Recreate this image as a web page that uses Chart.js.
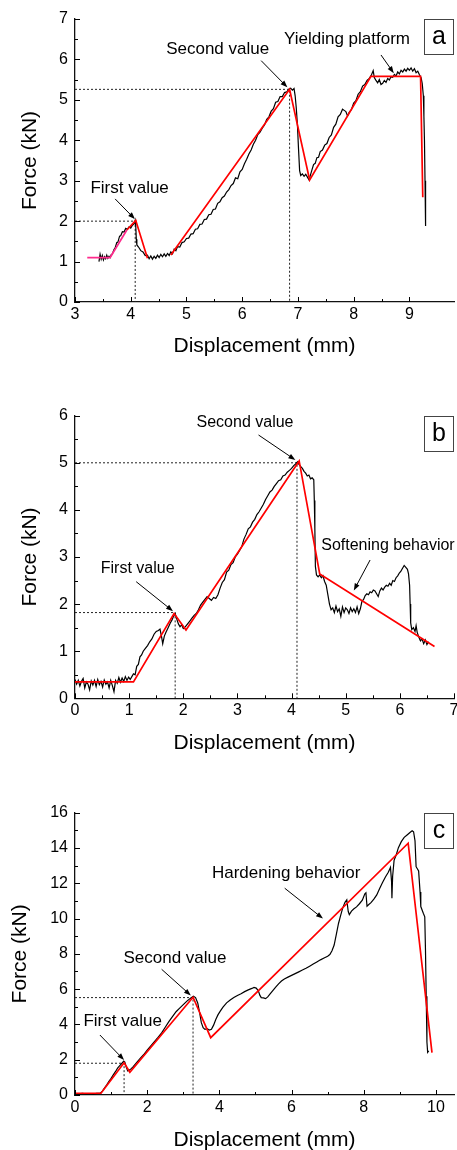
<!DOCTYPE html>
<html>
<head>
<meta charset="utf-8">
<script src="https://cdn.jsdelivr.net/npm/chart.js@4"></script>
<style>
  html, body { margin: 0; padding: 0; background: #fff; overflow: hidden; }
  canvas { position: absolute; left: 0; }
</style>
</head>
<body>
<canvas id="chart-a" width="457" height="380" style="top:0px"></canvas>
<canvas id="chart-b" width="457" height="380" style="top:380px"></canvas>
<canvas id="chart-c" width="457" height="390" style="top:765px"></canvas>
<script>
// Force-displacement curves, three specimens (a, b, c).
// Black = measured curve, red = piecewise fit, dotted = first/second value guides.

// ---- panel a ----
const aXTicks = [3, 4, 5, 6, 7, 8, 9];
const aYTicks = [0, 1, 2, 3, 4, 5, 6, 7];
const aMeasured = [
  [3.43,1.00],[3.45,1.18],[3.47,1.06],[3.49,1.15],[3.51,1.04],[3.53,1.12],[3.55,1.07],[3.57,1.16],
  [3.59,1.08],[3.61,1.13],[3.63,1.10],[3.65,1.17],[3.67,1.19],[3.70,1.30],[3.72,1.34],[3.75,1.47],
  [3.77,1.48],[3.80,1.63],[3.82,1.64],[3.85,1.74],[3.88,1.73],[3.91,1.82],[3.94,1.80],[3.97,1.86],
  [4.00,1.83],[4.03,1.90],[4.06,1.93],[4.08,2.02],[4.09,1.88],[4.10,1.55],[4.11,1.41],[4.14,1.36],
  [4.18,1.27],[4.22,1.24],[4.26,1.15],[4.30,1.16],[4.33,1.07],[4.36,1.14],[4.39,1.06],[4.42,1.13],
  [4.45,1.08],[4.48,1.16],[4.51,1.10],[4.54,1.18],[4.57,1.12],[4.60,1.19],[4.63,1.13],[4.66,1.20],
  [4.69,1.15],[4.72,1.24],[4.75,1.19],[4.78,1.31],[4.81,1.27],[4.84,1.37],[4.88,1.36],[4.92,1.47],
  [4.96,1.49],[5.00,1.57],[5.04,1.58],[5.08,1.68],[5.12,1.69],[5.16,1.80],[5.20,1.81],[5.24,1.92],
  [5.28,1.93],[5.32,2.04],[5.36,2.05],[5.40,2.16],[5.44,2.17],[5.48,2.29],[5.52,2.30],[5.56,2.44],
  [5.60,2.48],[5.64,2.58],[5.68,2.62],[5.72,2.72],[5.76,2.78],[5.80,2.88],[5.84,2.93],[5.88,3.07],
  [5.92,3.05],[5.96,3.22],[6.00,3.28],[6.04,3.42],[6.08,3.53],[6.12,3.66],[6.16,3.76],[6.20,3.90],
  [6.24,4.00],[6.28,4.14],[6.32,4.20],[6.36,4.30],[6.40,4.38],[6.44,4.52],[6.48,4.58],[6.52,4.72],
  [6.56,4.78],[6.60,4.94],[6.64,4.96],[6.68,5.08],[6.72,5.08],[6.76,5.18],[6.80,5.20],[6.84,5.27],
  [6.87,5.29],[6.90,5.24],[6.93,5.28],[6.95,5.10],[6.97,4.80],[6.99,4.40],[7.01,3.80],[7.03,3.25],
  [7.05,3.13],[7.08,3.17],[7.11,3.11],[7.14,3.16],[7.17,3.09],[7.20,3.02],[7.22,3.12],[7.25,3.26],
  [7.28,3.40],[7.31,3.43],[7.34,3.57],[7.37,3.58],[7.40,3.72],[7.44,3.76],[7.48,3.88],[7.52,3.92],
  [7.56,4.07],[7.60,4.13],[7.64,4.32],[7.68,4.40],[7.72,4.58],[7.76,4.64],[7.80,4.77],[7.83,4.74],
  [7.86,4.71],[7.89,4.60],[7.92,4.69],[7.96,4.76],[8.00,4.92],[8.04,4.98],[8.08,5.14],[8.12,5.20],
  [8.16,5.34],[8.20,5.38],[8.24,5.48],[8.28,5.53],[8.32,5.62],[8.35,5.72],[8.37,5.55],[8.40,5.48],
  [8.43,5.42],[8.46,5.50],[8.49,5.38],[8.52,5.41],[8.55,5.48],[8.58,5.43],[8.61,5.53],[8.64,5.49],
  [8.67,5.57],[8.70,5.56],[8.73,5.63],[8.76,5.59],[8.79,5.69],[8.82,5.64],[8.85,5.73],[8.88,5.69],
  [8.91,5.76],[8.94,5.71],[8.97,5.78],[9.00,5.73],[9.03,5.79],[9.06,5.71],[9.09,5.77],[9.12,5.67],
  [9.15,5.71],[9.18,5.62],[9.21,5.55],[9.23,5.40],[9.25,5.10],[9.26,4.60],[9.27,4.00],[9.28,3.00],
  [9.29,1.88]
];
const aFit = [[3.93,1.78],[4.09,2.02],[4.30,1.08],[4.50,null],[4.72,1.16],[6.85,5.26],[7.21,3.02],[8.31,5.58],[9.20,5.58],[9.24,2.59]];
const aPreload = [[3.22,1.10],[3.63,1.10],[3.93,1.78]];
const aGuideFirst = [[3,2.00],[4.08,2.00],[4.08,0]];
const aGuideSecond = [[3,5.26],[6.85,5.26],[6.85,0]];

// ---- panel b ----
const bXTicks = [0, 1, 2, 3, 4, 5, 6, 7];
const bYTicks = [0, 1, 2, 3, 4, 5, 6];
const bMeasured = [
  [0,0.40],[0.03,0.30],[0.06,0.38],[0.09,0.26],[0.12,0.36],[0.15,0.42],[0.18,0.22],[0.21,0.35],
  [0.24,0.30],[0.27,0.18],[0.30,0.37],[0.33,0.28],[0.36,0.38],[0.39,0.25],[0.42,0.40],[0.45,0.29],
  [0.48,0.36],[0.51,0.24],[0.54,0.39],[0.57,0.30],[0.60,0.35],[0.63,0.22],[0.66,0.38],[0.69,0.27],
  [0.72,0.14],[0.75,0.38],[0.78,0.32],[0.81,0.44],[0.84,0.34],[0.87,0.43],[0.90,0.36],[0.93,0.46],
  [0.96,0.38],[0.99,0.45],[1.02,0.40],[1.05,0.46],[1.08,0.52],[1.11,0.50],[1.14,0.68],[1.17,0.72],
  [1.20,0.88],[1.23,0.92],[1.26,1.00],[1.30,1.06],[1.34,1.12],[1.38,1.20],[1.42,1.26],[1.46,1.36],
  [1.50,1.42],[1.54,1.44],[1.57,1.47],[1.60,1.30],[1.62,1.16],[1.65,1.32],[1.68,1.40],[1.72,1.50],
  [1.76,1.60],[1.79,1.66],[1.82,1.74],[1.85,1.80],[1.88,1.68],[1.91,1.58],[1.94,1.52],[1.97,1.56],
  [2.00,1.48],[2.04,1.52],[2.08,1.58],[2.12,1.64],[2.16,1.70],[2.20,1.76],[2.24,1.80],[2.28,1.88],
  [2.32,1.98],[2.36,2.04],[2.40,2.10],[2.44,2.16],[2.48,2.12],[2.52,2.08],[2.56,2.14],[2.60,2.12],
  [2.64,2.20],[2.68,2.34],[2.72,2.46],[2.76,2.52],[2.80,2.68],[2.84,2.72],[2.88,2.84],[2.92,2.88],
  [2.96,3.00],[3.00,3.06],[3.04,3.14],[3.08,3.22],[3.12,3.38],[3.16,3.48],[3.20,3.60],[3.24,3.64],
  [3.28,3.74],[3.32,3.80],[3.36,3.90],[3.40,3.96],[3.44,4.04],[3.48,4.12],[3.52,4.22],[3.56,4.30],
  [3.60,4.38],[3.64,4.42],[3.68,4.50],[3.72,4.56],[3.76,4.62],[3.80,4.64],[3.84,4.72],[3.88,4.74],
  [3.92,4.80],[3.96,4.84],[4.00,4.88],[4.04,4.94],[4.08,4.98],[4.11,5.02],[4.14,4.96],[4.17,4.92],
  [4.20,4.88],[4.23,4.82],[4.26,4.78],[4.29,4.72],[4.32,4.74],[4.35,4.66],[4.38,4.68],[4.41,4.64],
  [4.42,4.20],[4.43,3.60],[4.44,2.80],[4.46,2.62],[4.49,2.58],[4.52,2.62],[4.55,2.56],[4.58,2.60],
  [4.61,2.48],[4.64,2.40],[4.67,2.20],[4.70,2.00],[4.73,1.88],[4.76,1.92],[4.79,1.82],[4.82,1.96],
  [4.85,1.84],[4.88,1.90],[4.91,1.74],[4.94,1.94],[4.97,1.82],[5.00,1.92],[5.03,1.88],[5.06,1.80],
  [5.09,1.92],[5.12,1.84],[5.15,1.90],[5.18,1.82],[5.21,1.94],[5.24,1.80],[5.27,1.90],[5.30,2.06],
  [5.33,2.10],[5.36,2.18],[5.39,2.22],[5.42,2.20],[5.45,2.26],[5.48,2.24],[5.51,2.30],[5.54,2.28],
  [5.57,2.22],[5.60,2.16],[5.63,2.28],[5.66,2.34],[5.69,2.30],[5.72,2.36],[5.75,2.40],[5.78,2.38],
  [5.81,2.44],[5.84,2.40],[5.87,2.50],[5.90,2.48],[5.93,2.56],[5.96,2.60],[5.99,2.66],[6.02,2.70],
  [6.05,2.76],[6.08,2.82],[6.11,2.78],[6.14,2.74],[6.16,2.64],[6.18,2.40],[6.19,2.00],[6.20,1.60],
  [6.22,1.46],[6.25,1.50],[6.28,1.42],[6.30,1.54],[6.32,1.40],[6.35,1.30],[6.38,1.22],[6.41,1.26],
  [6.44,1.16],[6.47,1.24],[6.50,1.14],[6.53,1.20]
];
const bFit = [[0,0.35],[1.08,0.35],[1.83,1.80],[2.05,1.45],[4.14,5.04],[4.52,2.64],[6.64,1.10]];
const bGuideFirst = [[0,1.82],[1.85,1.82],[1.85,0]];
const bGuideSecond = [[0,5.00],[4.10,5.00],[4.10,0]];

// ---- panel c ----
const cXTicks = [0, 2, 4, 6, 8, 10];
const cYTicks = [0, 2, 4, 6, 8, 10, 12, 14, 16];
const cMeasured = [
  [0,0.08],[0.1,0.05],[0.2,0.09],[0.3,0.06],[0.4,0.08],[0.5,0.05],[0.6,0.09],[0.7,0.10],
  [0.76,0.22],[0.82,0.40],[0.88,0.58],[0.94,0.78],[1.00,0.94],[1.06,1.14],[1.12,1.32],[1.18,1.52],
  [1.24,1.66],[1.30,1.80],[1.35,1.92],[1.38,1.86],[1.42,1.58],[1.46,1.36],[1.50,1.40],[1.55,1.48],
  [1.60,1.58],[1.70,1.82],[1.80,2.06],[1.90,2.28],[2.00,2.54],[2.10,2.78],[2.20,3.02],[2.30,3.26],
  [2.40,3.52],[2.50,3.84],[2.60,4.16],[2.70,4.44],[2.80,4.72],[2.90,4.92],[3.00,5.12],[3.10,5.32],
  [3.20,5.48],[3.28,5.60],[3.34,5.52],[3.40,5.22],[3.45,4.70],[3.50,4.10],[3.55,3.82],[3.60,3.72],
  [3.66,3.76],[3.72,3.68],[3.78,3.72],[3.84,3.96],[3.90,4.28],[3.96,4.54],[4.02,4.74],[4.10,4.98],
  [4.20,5.22],[4.30,5.38],[4.40,5.52],[4.50,5.64],[4.60,5.74],[4.70,5.86],[4.80,5.96],[4.90,6.04],
  [4.96,6.10],[5.02,6.06],[5.08,5.90],[5.12,5.66],[5.16,5.52],[5.22,5.50],[5.28,5.46],[5.34,5.56],
  [5.40,5.72],[5.48,5.92],[5.56,6.12],[5.64,6.30],[5.72,6.46],[5.80,6.58],[5.90,6.68],[6.00,6.78],
  [6.10,6.88],[6.20,6.98],[6.30,7.08],[6.40,7.18],[6.50,7.30],[6.60,7.42],[6.70,7.54],[6.80,7.66],
  [6.90,7.76],[7.00,7.86],[7.06,7.96],[7.12,8.18],[7.18,8.50],[7.24,9.10],[7.30,9.72],[7.36,10.18],
  [7.42,10.62],[7.48,10.92],[7.53,11.06],[7.57,10.40],[7.60,10.22],[7.66,10.42],[7.72,10.54],[7.80,10.66],
  [7.88,10.84],[7.96,11.04],[8.03,11.40],[8.06,11.46],[8.09,10.70],[8.14,10.80],[8.20,10.90],[8.28,11.10],
  [8.36,11.34],[8.44,11.70],[8.52,12.04],[8.60,12.36],[8.68,12.62],[8.74,12.90],[8.77,12.10],[8.78,11.15],
  [8.80,12.40],[8.84,13.30],[8.90,13.62],[8.96,14.02],[9.04,14.36],[9.12,14.60],[9.20,14.74],[9.28,14.88],
  [9.34,14.98],[9.38,14.92],[9.42,14.40],[9.45,12.94],[9.52,12.70],[9.56,11.50],[9.58,10.68],[9.65,10.30],
  [9.69,10.10],[9.71,8.20],[9.73,5.60],[9.75,3.00],[9.77,2.42],[9.80,2.50]
];
const cFit = [[0,0.10],[0.72,0.10],[1.36,1.83],[1.52,1.29],[3.27,5.54],[3.76,3.25],[9.23,14.27],[9.89,2.40]];
const cGuideFirst = [[0,1.80],[1.36,1.80],[1.36,0]];
const cGuideSecond = [[0,5.52],[3.27,5.52],[3.27,0]];

const FONT = '"Liberation Sans", Arial, sans-serif';

const toPoints = arr => arr.map(([x, y]) => ({ x, y }));

// midpoints between major ticks, used for the small inward ticks
const minorsOf = ticks => ticks.slice(1).map((v, i) => (v + ticks[i]) / 2);

// inward ticks, annotation texts with arrows and the panel letter box
const decorations = {
  id: 'decorations',
  afterDatasetsDraw(chart, args, opts) {
    const { ctx, chartArea: area, scales: { x, y } } = chart;
    ctx.save();
    ctx.strokeStyle = '#000';
    ctx.fillStyle = '#000';
    ctx.lineWidth = 1;
    const seg = (x1, y1, x2, y2) => {
      ctx.beginPath(); ctx.moveTo(x1, y1); ctx.lineTo(x2, y2); ctx.stroke();
    };
    opts.xMajor.forEach(v => { const p = Math.round(x.getPixelForValue(v)) + 0.5; seg(p, area.bottom, p, area.bottom - 5); });
    minorsOf(opts.xMajor).forEach(v => { const p = Math.round(x.getPixelForValue(v)) + 0.5; seg(p, area.bottom, p, area.bottom - 3); });
    opts.yMajor.forEach(v => { const p = Math.round(y.getPixelForValue(v)) + 0.5; seg(area.left, p, area.left + 5, p); });
    minorsOf(opts.yMajor).forEach(v => { const p = Math.round(y.getPixelForValue(v)) + 0.5; seg(area.left, p, area.left + 3, p); });

    // annotations
    ctx.font = opts.noteSize + 'px ' + FONT;
    ctx.textAlign = 'center';
    ctx.textBaseline = 'middle';
    opts.notes.forEach(n => {
      ctx.fillText(n.text, x.getPixelForValue(n.at[0]), y.getPixelForValue(n.at[1]));
      const x1 = x.getPixelForValue(n.from[0]), y1 = y.getPixelForValue(n.from[1]);
      const x2 = x.getPixelForValue(n.to[0]), y2 = y.getPixelForValue(n.to[1]);
      const ang = Math.atan2(y2 - y1, x2 - x1);
      seg(x1, y1, x2 - 5 * Math.cos(ang), y2 - 5 * Math.sin(ang));
      ctx.beginPath();
      ctx.moveTo(x2, y2);
      ctx.lineTo(x2 - 7 * Math.cos(ang) + 2.6 * Math.sin(ang), y2 - 7 * Math.sin(ang) - 2.6 * Math.cos(ang));
      ctx.lineTo(x2 - 7 * Math.cos(ang) - 2.6 * Math.sin(ang), y2 - 7 * Math.sin(ang) + 2.6 * Math.cos(ang));
      ctx.closePath();
      ctx.fill();
    });

    // letter box in the top right corner
    const bx = Math.round(area.right) - 29.5, by = Math.round(area.top) + 0.5;
    ctx.strokeStyle = '#444';
    ctx.strokeRect(bx, by, 29, 35);
    ctx.font = '25px ' + FONT;
    ctx.fillText(opts.letter, bx + 14.5, by + 18);
    ctx.restore();
  }
};

function makePanel(id, p) {
  const ctx = document.getElementById(id).getContext('2d');
  const datasets = [
    { data: toPoints(p.fit), borderColor: '#ff0000', borderWidth: 1.7, spanGaps: false },
    { data: toPoints(p.measured), borderColor: '#000', borderWidth: 1.2 },
    { data: toPoints(p.guideFirst), borderColor: '#222', borderWidth: 1, borderDash: [2, 2] },
    { data: toPoints(p.guideSecond), borderColor: '#222', borderWidth: 1, borderDash: [2, 2] }
  ];
  if (p.preload) {
    datasets.unshift({ data: toPoints(p.preload), borderColor: '#ff2a8c', borderWidth: 1.7 });
  }
  datasets.forEach(d => { d.showLine = true; d.pointRadius = 0; d.fill = false; d.tension = 0; });

  return new Chart(ctx, {
    type: 'scatter',
    data: { datasets },
    options: {
      responsive: false,
      animation: false,
      events: [],
      layout: { padding: { top: p.areaTop, right: 3, bottom: 0, left: 0 } },
      plugins: {
        legend: { display: false },
        tooltip: { enabled: false },
        decorations: {
          xMajor: p.xTicks, yMajor: p.yTicks, notes: p.notes,
          noteSize: p.noteSize, letter: p.letter
        }
      },
      scales: {
        x: {
          type: 'linear',
          min: p.xMin, max: p.xMax,
          afterBuildTicks: s => { s.ticks = p.xTicks.map(v => ({ value: v })); },
          afterFit: s => { s.height = p.xAxisH; s.paddingLeft = 0; s.paddingRight = 0; },
          ticks: { font: { family: FONT, size: 16 }, color: '#000', padding: 3, maxRotation: 0, autoSkip: false },
          grid: { drawOnChartArea: false, drawTicks: false },
          border: { color: '#111', width: 1.3 },
          title: {
            display: true, text: 'Displacement (mm)', color: '#000',
            font: { family: FONT, size: 21 }, padding: { top: 0, bottom: p.xTitlePad }
          }
        },
        y: {
          type: 'linear',
          min: p.yMin, max: p.yMax,
          afterBuildTicks: s => { s.ticks = p.yTicks.map(v => ({ value: v })); },
          afterFit: s => { s.width = 75; s.paddingTop = 0; s.paddingBottom = 0; },
          ticks: { font: { family: FONT, size: 16 }, color: '#000', padding: 7, autoSkip: false },
          grid: { drawOnChartArea: false, drawTicks: false },
          border: { color: '#111', width: 1.3 },
          title: {
            display: true, text: 'Force (kN)', color: '#000',
            font: { family: FONT, size: 21 }, padding: { top: p.yTitlePad, bottom: 0 }
          }
        }
      }
    },
    plugins: [decorations]
  });
}

makePanel('chart-a', {
  measured: aMeasured, fit: aFit, preload: aPreload,
  guideFirst: aGuideFirst, guideSecond: aGuideSecond,
  xTicks: aXTicks, yTicks: aYTicks, xMin: 3, xMax: 9.8, yMin: 0, yMax: 7,
  areaTop: 19, xAxisH: 78, xTitlePad: 20.7, yTitlePad: 17.4,
  noteSize: 17, letter: 'a',
  notes: [
    { text: 'First value', at: [3.98, 2.81], from: [3.72, 2.55], to: [4.075, 2.05] },
    { text: 'Second value', at: [5.56, 6.26], from: [6.34, 5.97], to: [6.81, 5.31] },
    { text: 'Yielding platform', at: [7.88, 6.505], from: [8.49, 6.11], to: [8.72, 5.66] }
  ]
});

makePanel('chart-b', {
  measured: bMeasured, fit: bFit,
  guideFirst: bGuideFirst, guideSecond: bGuideSecond,
  xTicks: bXTicks, yTicks: bYTicks, xMin: 0, xMax: 7, yMin: 0, yMax: 6,
  areaTop: 35.7, xAxisH: 61.7, xTitlePad: 4.4, yTitlePad: 17.4,
  noteSize: 16, letter: 'b',
  notes: [
    { text: 'First value', at: [1.157, 2.745], from: [1.13, 2.476], to: [1.81, 1.85] },
    { text: 'Second value', at: [3.14, 5.86], from: [3.39, 5.59], to: [4.07, 5.06] },
    { text: 'Softening behavior', at: [5.78, 3.24], from: [5.45, 2.936], to: [5.15, 2.29] }
  ]
});

makePanel('chart-c', {
  measured: cMeasured, fit: cFit,
  guideFirst: cGuideFirst, guideSecond: cGuideSecond,
  xTicks: cXTicks, yTicks: cYTicks, xMin: 0, xMax: 10.5, yMin: 0, yMax: 16,
  areaTop: 47.7, xAxisH: 60, xTitlePad: 2.4, yTitlePad: 8.1,
  noteSize: 17, letter: 'c',
  notes: [
    { text: 'First value', at: [1.32, 4.156], from: [0.69, 3.40], to: [1.36, 1.98] },
    { text: 'Second value', at: [2.77, 7.75], from: [2.40, 7.125], to: [3.21, 5.64] },
    { text: 'Hardening behavior', at: [5.85, 12.57], from: [5.81, 11.72], to: [6.87, 10.0] }
  ]
});
</script>
</body>
</html>
